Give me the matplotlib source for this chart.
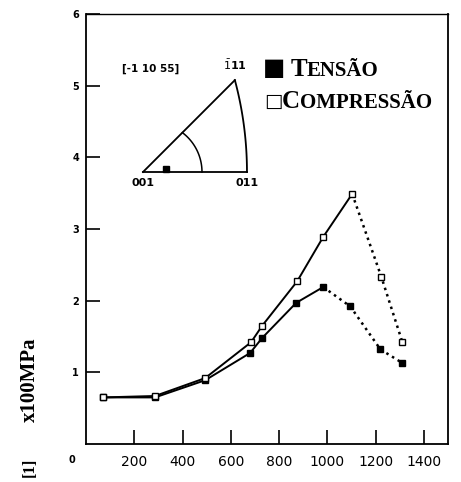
import matplotlib.pyplot as plt
import numpy as np

# temperature (K) and stress (x100 MPa)
temp_tension = [70, 286, 494, 680, 730, 871, 983, 1095, 1220, 1311]
stress_tension = [0.65, 0.65, 0.89, 1.27, 1.48, 1.97, 2.19, 1.92, 1.32, 1.13]
temp_compr = [70, 286, 494, 684, 730, 875, 983, 1103, 1224, 1311]
stress_compr = [0.65, 0.67, 0.92, 1.42, 1.65, 2.27, 2.89, 3.49, 2.33, 1.42]
peak_tension = 6
peak_compr = 7

x_ticks = [200, 400, 600, 800, 1000, 1200, 1400]
y_ticks = [1, 2, 3, 4, 5, 6]

# orientation of the crystal inside the standard triangle
orient_xy = (0.092, 0.012)

W, H = 461, 482
fig = plt.figure(figsize=(W / 100, H / 100), dpi=100)
ax = fig.add_axes([86 / W, 1 - 444 / H, (448 - 86) / W, (444 - 14) / H])

ax.plot(temp_tension[:peak_tension + 1], stress_tension[:peak_tension + 1], '-', color='black', lw=1.4)
ax.plot(temp_tension[peak_tension:], stress_tension[peak_tension:], ':', color='black', lw=1.8)
ax.plot(temp_compr[:peak_compr + 1], stress_compr[:peak_compr + 1], '-', color='black', lw=1.4)
ax.plot(temp_compr[peak_compr:], stress_compr[peak_compr:], ':', color='black', lw=1.8)
ax.plot(temp_tension, stress_tension, 's', ms=5, mfc='black', mec='black', ls='none')
ax.plot(temp_compr, stress_compr, 's', ms=5, mfc='white', mec='black', mew=1.0, ls='none')

ax.set_xlim(0, 1500)
ax.set_ylim(0, 6)
ax.set_xticks(x_ticks)
ax.set_xticklabels([str(v) for v in x_ticks], fontsize=10)
ax.set_yticks(y_ticks)
ax.set_yticklabels([str(v) for v in y_ticks], fontsize=7, fontweight='bold')
ax.tick_params(direction='in', length=10, width=1.2)
ax.tick_params(axis='x', pad=8)
ax.tick_params(axis='y', pad=5)
for side in ['left', 'bottom', 'right']:
    ax.spines[side].set_linewidth(1.3)
ax.spines['top'].set_linewidth(1.0)
fig.text(72 / W, 1 - 460 / H, '0', fontsize=7, fontweight='bold', ha='center', va='center')

# axis title; the bracket part sits at the bottom edge
fig.text(30 / W, 1 - 380 / H, 'x100MPa', rotation=90, fontsize=15, fontweight='bold',
         family='Liberation Serif', ha='center', va='center')
fig.text(30 / W, 1 - 467 / H, '[1]', rotation=90, fontsize=12, fontweight='bold',
         family='Liberation Serif', ha='center', va='center')

# legend written as text, small caps imitated with two sizes
fig.text(263 / W, 1 - 68 / H, '\u25a0', fontsize=17, ha='left', va='center')
fig.text(291 / W, 1 - 76 / H, 'T', fontsize=18, fontweight='bold', family='Liberation Serif', va='baseline')
fig.text(307 / W, 1 - 76 / H, 'ENSÃO', fontsize=15, fontweight='bold', family='Liberation Serif', va='baseline')
fig.text(264 / W, 1 - 101 / H, '\u25a1', fontsize=14, ha='left', va='center')
fig.text(282 / W, 1 - 108 / H, 'C', fontsize=18, fontweight='bold', family='Liberation Serif', va='baseline')
fig.text(300 / W, 1 - 108 / H, 'OMPRESSÃO', fontsize=15, fontweight='bold', family='Liberation Serif', va='baseline')

# standard stereographic triangle 001 - 011 - 111
s = 251.0
ox, oy = 143, 172
x0, x1, y0, y1 = -0.05, 0.45, -0.05, 0.40
ins = fig.add_axes([(ox + x0 * s) / W, 1 - (oy - y0 * s) / H, (x1 - x0) * s / W, (y1 - y0) * s / H])
ins.set_xlim(x0, x1)
ins.set_ylim(y0, y1)
ins.axis('off')
p011 = np.sqrt(2) - 1
p111 = 1 / (1 + np.sqrt(3))
a = np.linspace(np.arctan2(p111, p111 + 1), 0, 60)
ins.plot([0, p011], [0, 0], color='black', lw=1.3)
ins.plot([0, p111], [0, p111], color='black', lw=1.3)
ins.plot(-1 + np.sqrt(2) * np.cos(a), np.sqrt(2) * np.sin(a), color='black', lw=1.3)
# inner boundary arc
h = 0.0385
r = 0.235 - h
b = np.linspace(np.arctan2(0.157, 0.157 - h), 0, 40)
ins.plot(h + r * np.cos(b), r * np.sin(b), color='black', lw=1.1)
ins.plot(*orient_xy, 's', ms=4, color='black')
ins.text(0, -0.045, '001', fontsize=8, fontweight='bold', ha='center', va='center')
ins.text(p011, -0.045, '011', fontsize=8, fontweight='bold', ha='center', va='center')
ins.text(p111, 0.425, r'$\bar{1}$11', fontsize=8, fontweight='bold', ha='center', va='center')
ins.text(0.032, 0.41, '[-1 10 55]', fontsize=7.5, fontweight='bold', ha='center', va='center')

fig.savefig('out.png', dpi=100)
